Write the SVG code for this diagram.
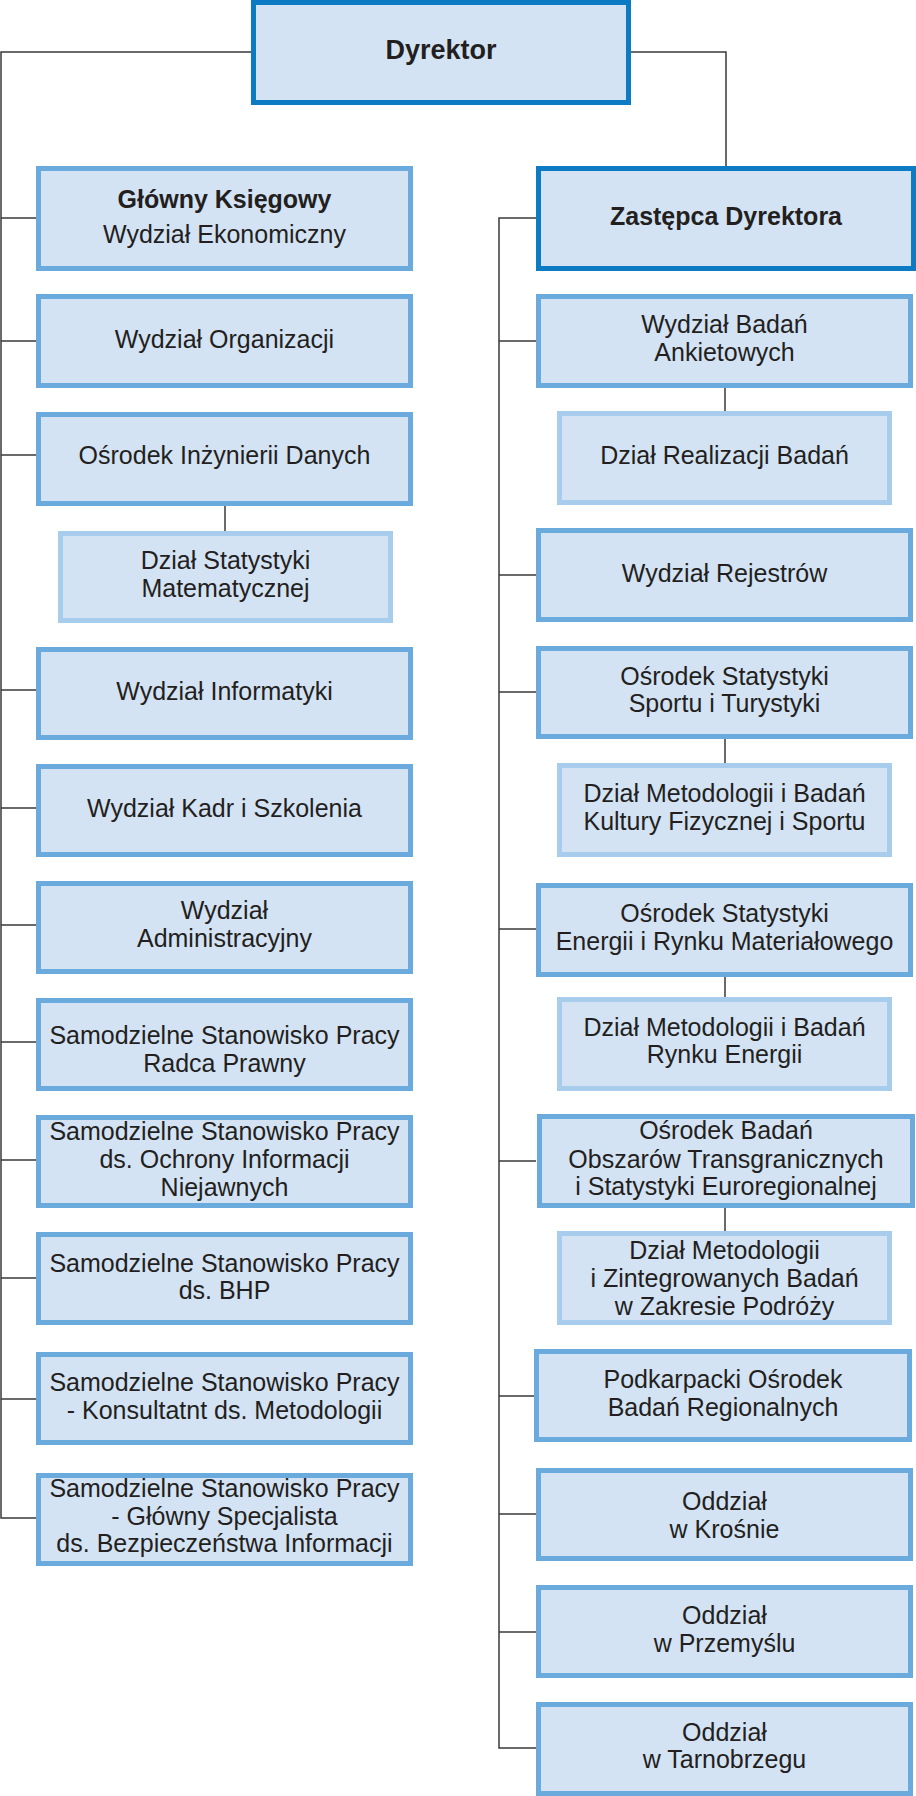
<svg xmlns="http://www.w3.org/2000/svg" width="916" height="1796" viewBox="0 0 916 1796">
<style>
.box{fill:#d3e3f4;stroke:#6aaadd;stroke-width:5}
.top{fill:#d3e3f4;stroke:#0c7bc4;stroke-width:5}
.sub{fill:#d3e3f4;stroke:#a8ccec;stroke-width:5}
text{font-family:"Liberation Sans",Arial,sans-serif;font-size:25px;fill:#231f20;text-anchor:middle}
.b{font-weight:bold}
.conn{fill:none;stroke:#3a3a3a;stroke-width:1.5}
</style>
<rect width="916" height="1796" fill="#ffffff"/>
<g id="connectors" class="conn">
<path d="M251,52 H1 V1518 H36"/>
<path d="M631,52 H726 V166"/>
<path d="M1,218 H36 M1,341 H36 M1,455 H36 M1,690 H36 M1,808 H36 M1,925 H36 M1,1042 H36 M1,1160 H36 M1,1278 H36 M1,1399 H36"/>
<path d="M225,506 V531"/>
<path d="M536,218 H499 V1748 H536"/>
<path d="M499,341 H536 M499,575 H536 M499,692 H536 M499,929 H536 M499,1161 H536 M499,1396 H536 M499,1514 H536 M499,1632 H536"/>
<path d="M725,388 V411 M725,739 V763 M725,977 V997 M725,1208 V1231"/>
</g>
<g id="dyrektor"><rect class="top" x="253.5" y="2.5" width="375" height="100"/><text class="b" x="441" y="59" style="font-size:27px">Dyrektor</text></g>
<g id="glowny-ksiegowy"><rect class="box" x="38.5" y="168.5" width="372" height="100"/><text class="b" x="224.5" y="208">Główny Księgowy</text><text x="224.5" y="243">Wydział Ekonomiczny</text></g>
<g id="wydzial-organizacji"><rect class="box" x="38.5" y="296.5" width="372" height="89"/><text x="224.5" y="348">Wydział Organizacji</text></g>
<g id="osrodek-inzynierii"><rect class="box" x="38.5" y="414.5" width="372" height="89"/><text x="224.5" y="464">Ośrodek Inżynierii Danych</text></g>
<g id="dzial-statystyki"><rect class="sub" x="60.5" y="533.5" width="330" height="87"/><text x="225.5" y="569">Dział Statystyki</text><text x="225.5" y="597">Matematycznej</text></g>
<g id="wydzial-informatyki"><rect class="box" x="38.5" y="649.5" width="372" height="88"/><text x="224.5" y="700">Wydział Informatyki</text></g>
<g id="wydzial-kadr"><rect class="box" x="38.5" y="766.5" width="372" height="88"/><text x="224.5" y="817">Wydział Kadr i Szkolenia</text></g>
<g id="wydzial-administracyjny"><rect class="box" x="38.5" y="883.5" width="372" height="88"/><text x="224.5" y="919">Wydział</text><text x="224.5" y="947">Administracyjny</text></g>
<g id="radca-prawny"><rect class="box" x="38.5" y="1000.5" width="372" height="88"/><text x="224.5" y="1044">Samodzielne Stanowisko Pracy</text><text x="224.5" y="1072">Radca Prawny</text></g>
<g id="ochrona-informacji"><rect class="box" x="38.5" y="1117.5" width="372" height="88"/><text x="224.5" y="1140">Samodzielne Stanowisko Pracy</text><text x="224.5" y="1168">ds. Ochrony Informacji</text><text x="224.5" y="1196">Niejawnych</text></g>
<g id="bhp"><rect class="box" x="38.5" y="1234.5" width="372" height="88"/><text x="224.5" y="1272">Samodzielne Stanowisko Pracy</text><text x="224.5" y="1299">ds. BHP</text></g>
<g id="konsultant"><rect class="box" x="38.5" y="1354.5" width="372" height="88"/><text x="224.5" y="1391">Samodzielne Stanowisko Pracy</text><text x="224.5" y="1419">- Konsultatnt ds. Metodologii</text></g>
<g id="glowny-specjalista"><rect class="box" x="38.5" y="1475.5" width="372" height="88"/><text x="224.5" y="1497">Samodzielne Stanowisko Pracy</text><text x="224.5" y="1525">- Główny Specjalista</text><text x="224.5" y="1552">ds. Bezpieczeństwa Informacji</text></g>
<g id="zastepca"><rect class="top" x="538.5" y="168.5" width="375" height="100"/><text class="b" x="726" y="225">Zastępca Dyrektora</text></g>
<g id="badan-ankietowych"><rect class="box" x="538.5" y="296.5" width="372" height="89"/><text x="724.5" y="333">Wydział Badań</text><text x="724.5" y="361">Ankietowych</text></g>
<g id="realizacji-badan"><rect class="sub" x="559.5" y="413.5" width="330" height="89"/><text x="724.5" y="464">Dział Realizacji Badań</text></g>
<g id="rejestrow"><rect class="box" x="538.5" y="530.5" width="372" height="89"/><text x="724.5" y="582">Wydział Rejestrów</text></g>
<g id="osrodek-sportu"><rect class="box" x="538.5" y="648.5" width="372" height="88"/><text x="724.5" y="685">Ośrodek Statystyki</text><text x="724.5" y="712">Sportu i Turystyki</text></g>
<g id="dzial-kultury"><rect class="sub" x="559.5" y="765.5" width="330" height="89"/><text x="724.5" y="802">Dział Metodologii i Badań</text><text x="724.5" y="830">Kultury Fizycznej i Sportu</text></g>
<g id="osrodek-energii"><rect class="box" x="538.5" y="885.5" width="372" height="89"/><text x="724.5" y="922">Ośrodek Statystyki</text><text x="724.5" y="950">Energii i Rynku Materiałowego</text></g>
<g id="dzial-energii"><rect class="sub" x="559.5" y="999.5" width="330" height="89"/><text x="724.5" y="1036">Dział Metodologii i Badań</text><text x="724.5" y="1063">Rynku Energii</text></g>
<g id="osrodek-transgraniczny"><rect class="box" x="539.5" y="1116.5" width="373" height="89"/><text x="726" y="1139">Ośrodek Badań</text><text x="726" y="1168">Obszarów Transgranicznych</text><text x="726" y="1195">i Statystyki Euroregionalnej</text></g>
<g id="dzial-podrozy"><rect class="sub" x="559.5" y="1233.5" width="330" height="89"/><text x="724.5" y="1259">Dział Metodologii</text><text x="724.5" y="1287">i Zintegrowanych Badań</text><text x="724.5" y="1315">w Zakresie Podróży</text></g>
<g id="podkarpacki"><rect class="box" x="536.5" y="1351.5" width="373" height="88"/><text x="723" y="1388">Podkarpacki Ośrodek</text><text x="723" y="1416">Badań Regionalnych</text></g>
<g id="krosno"><rect class="box" x="538.5" y="1470.5" width="372" height="88"/><text x="724.5" y="1510">Oddział</text><text x="724.5" y="1538">w Krośnie</text></g>
<g id="przemysl"><rect class="box" x="538.5" y="1587.5" width="372" height="88"/><text x="724.5" y="1624">Oddział</text><text x="724.5" y="1652">w Przemyślu</text></g>
<g id="tarnobrzeg"><rect class="box" x="538.5" y="1704.5" width="372" height="89"/><text x="724.5" y="1741">Oddział</text><text x="724.5" y="1768">w Tarnobrzegu</text></g>
</svg>
